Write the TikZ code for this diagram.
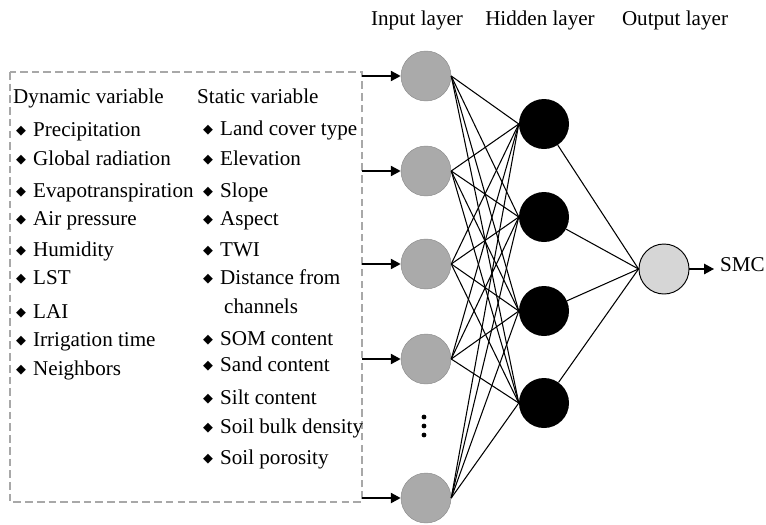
\documentclass[tikz,border=0pt]{standalone}
\usepackage{fontspec}
\setmainfont{Liberation Serif}
\newfontfamily\symfont{DejaVu Sans}
\usetikzlibrary{arrows.meta,positioning}
\definecolor{ingray}{RGB}{170,170,170}
\definecolor{inline}{RGB}{140,140,140}
\definecolor{outgray}{RGB}{214,214,214}
\definecolor{boxgray}{RGB}{168,168,168}
\newcommand{\dm}{{\symfont\fontsize{11}{11}\selectfont\raisebox{1.5pt}{◆}}\hspace{6pt}}

\begin{document}
\begin{tikzpicture}[x=0.03cm,y=-0.03cm,
        inneuron/.style={circle,draw=inline,fill=ingray,minimum size=1.5cm,inner sep=0pt},
        hidneuron/.style={circle,fill=black,minimum size=1.5cm,inner sep=0pt},
        outneuron/.style={circle,draw=black,fill=outgray,line width=0.8pt,minimum size=1.5cm,inner sep=0pt},
        item/.style={anchor=west,inner sep=0pt,font=\fontsize{18}{20}\selectfont,
          text height=0.7em,text depth=0.25em,yshift=-0.12cm},
        layer/.style={inner sep=0pt,font=\fontsize{18}{20}\selectfont,yshift=-0.06cm},
        arrow/.style={-{Triangle[length=8.5pt,width=8.5pt]},line width=2pt},
        link/.style={line width=0.9pt}]
        \useasboundingbox (0,0) rectangle (766,524);
        % input box
        \draw[boxgray,line width=1.7pt,dash pattern=on 6.5pt off 3.5pt] (10,72) rectangle (362,502);
        \node[item] (dyntitle) at (13,97) {Dynamic variable};
        \node[item] (statitle) at (197,97) {Static variable};
        \foreach \y/\t [count=\k] in {130/Precipitation,159/Global radiation,
            191/Evapotranspiration,219/Air pressure,250/Humidity,278/LST,312/LAI,
            340/Irrigation time,369/Neighbors}
          \node[item] (dyn\k) at (16,\y) {\dm\t};
        \foreach \y/\t [count=\k] in {129/Land cover type,159/Elevation,191/Slope,
            219/Aspect,250/TWI,278/Distance from,339/SOM content,365/Sand content,
            398/Silt content,427/Soil bulk density,458/Soil porosity}
          \node[item] (sta\k) at (203,\y) {\dm\t};
        \node[item] (sta6b) at (224,307) {channels};
        % layers
        \node[layer] (inlabel) at (417,18) {Input layer};
        \node[layer] (hidlabel) at (540,18) {Hidden layer};
        \node[layer] (outlabel) at (675,18) {Output layer};
        \foreach \y [count=\i] in {76,171,264,359,498} {
          \node[inneuron] (in\i) at (426,\y) {};
          \coordinate (src\i) at (362,\y);
          \draw[arrow] (src\i) -- (in\i);
        }
        \coordinate (dots) at (424,426);
        \foreach \d in {-1,0,1}
          \fill (dots) ++(0,\d*9) circle (2.4);
        \foreach \y [count=\j] in {124,217,311,403}
          \node[hidneuron] (hid\j) at (544,\y) {};
        \node[outneuron] (out) at (664,269) {};
        \node[item] (smc) at (720,265) {SMC};
        \foreach \i in {1,...,5}
          \foreach \j in {1,...,4}
            \draw[link] (in\i.east) -- (hid\j.west);
        \foreach \j in {1,...,4}
          \draw[link] (hid\j) -- (out.west);
        \draw[arrow,shorten >=5pt] (out) -- (smc.west);
      \end{tikzpicture}
\end{document}
